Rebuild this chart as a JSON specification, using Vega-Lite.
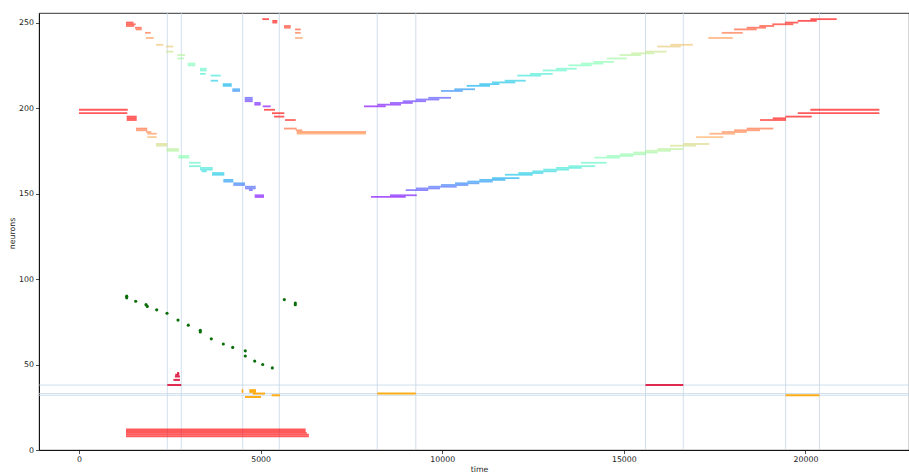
{
  "$schema": "https://vega.github.io/schema/vega-lite/v6.json",
  "width": 870,
  "height": 437,
  "autosize": {"type": "none"},
  "padding": {"left": 39, "top": 13, "right": 0, "bottom": 22},
  "background": "white",
  "config": {
    "view": {"stroke": "black", "strokeWidth": 0.8},
    "axis": {
      "labelFont": "DejaVu Sans",
      "labelFontSize": 7.8,
      "labelColor": "#222",
      "titleFont": "DejaVu Sans",
      "titleFontSize": 7.8,
      "titleFontWeight": "normal",
      "titleColor": "#222",
      "tickColor": "#222",
      "tickSize": 3.5,
      "tickWidth": 0.8,
      "domainColor": "black",
      "domainWidth": 0.8,
      "grid": false,
      "labelPadding": 2
    }
  },
  "datasets": {
    "event_times": [
      {"t": 2432}, {"t": 2817}, {"t": 4508}, {"t": 5515},
      {"t": 8211}, {"t": 9273}, {"t": 15597}, {"t": 16637},
      {"t": 19454}, {"t": 20384}
    ],
    "event_cells": [{"n": 38}, {"n": 33}, {"n": 32}],
    "seq": [
      {"a": "top", "n": 250, "t0": 1295, "t1": 1500},
      {"a": "top", "n": 249, "t0": 1295, "t1": 1560},
      {"a": "top", "n": 248, "t0": 1295, "t1": 1520},
      {"a": "top", "n": 247, "t0": 1543, "t1": 1727},
      {"a": "top", "n": 246, "t0": 1560, "t1": 1727},
      {"a": "top", "n": 244, "t0": 1818, "t1": 1975},
      {"a": "top", "n": 241, "t0": 1840, "t1": 2058},
      {"a": "top", "n": 237, "t0": 2121, "t1": 2322},
      {"a": "top", "n": 236, "t0": 2396, "t1": 2597},
      {"a": "top", "n": 233, "t0": 2396, "t1": 2597},
      {"a": "top", "n": 231, "t0": 2707, "t1": 2919},
      {"a": "top", "n": 229, "t0": 2707, "t1": 2890},
      {"a": "top", "n": 226, "t0": 2994, "t1": 3203},
      {"a": "top", "n": 225, "t0": 2994, "t1": 3203},
      {"a": "top", "n": 223, "t0": 3332, "t1": 3517},
      {"a": "top", "n": 222, "t0": 3332, "t1": 3517},
      {"a": "top", "n": 220, "t0": 3332, "t1": 3490},
      {"a": "top", "n": 219, "t0": 3627, "t1": 3902},
      {"a": "top", "n": 216, "t0": 3627, "t1": 3830},
      {"a": "top", "n": 214, "t0": 3957, "t1": 4205},
      {"a": "top", "n": 213, "t0": 3957, "t1": 4205},
      {"a": "top", "n": 211, "t0": 4221, "t1": 4433},
      {"a": "top", "n": 210, "t0": 4221, "t1": 4433},
      {"a": "top", "n": 206, "t0": 4563, "t1": 4783},
      {"a": "top", "n": 205, "t0": 4563, "t1": 4783},
      {"a": "top", "n": 204, "t0": 4563, "t1": 4783},
      {"a": "top", "n": 203, "t0": 4827, "t1": 5003},
      {"a": "top", "n": 202, "t0": 4827, "t1": 5003},
      {"a": "top", "n": 201, "t0": 5058, "t1": 5279},
      {"a": "top", "n": 252, "t0": 5047, "t1": 5232},
      {"a": "top", "n": 251, "t0": 5323, "t1": 5460},
      {"a": "top", "n": 250, "t0": 5323, "t1": 5460},
      {"a": "top", "n": 248, "t0": 5645, "t1": 5829},
      {"a": "top", "n": 247, "t0": 5645, "t1": 5829},
      {"a": "top", "n": 246, "t0": 5948, "t1": 6105},
      {"a": "top", "n": 244, "t0": 5948, "t1": 6105},
      {"a": "top", "n": 241, "t0": 5948, "t1": 6160},
      {"a": "top", "n": 201, "t0": 7847, "t1": 8445},
      {"a": "top", "n": 202, "t0": 8213, "t1": 8866},
      {"a": "top", "n": 203, "t0": 8563, "t1": 9188},
      {"a": "top", "n": 204, "t0": 8913, "t1": 9554},
      {"a": "top", "n": 205, "t0": 9271, "t1": 9920},
      {"a": "top", "n": 206, "t0": 9617, "t1": 10242},
      {"a": "top", "n": 210, "t0": 9967, "t1": 10564},
      {"a": "top", "n": 211, "t0": 10333, "t1": 10903},
      {"a": "top", "n": 213, "t0": 10675, "t1": 11316},
      {"a": "top", "n": 214, "t0": 11021, "t1": 11572},
      {"a": "top", "n": 215, "t0": 11371, "t1": 12012},
      {"a": "top", "n": 216, "t0": 11721, "t1": 12299},
      {"a": "top", "n": 219, "t0": 12068, "t1": 12720},
      {"a": "top", "n": 220, "t0": 12417, "t1": 13042},
      {"a": "top", "n": 222, "t0": 12767, "t1": 13428},
      {"a": "top", "n": 223, "t0": 13133, "t1": 13703},
      {"a": "top", "n": 225, "t0": 13472, "t1": 14116},
      {"a": "top", "n": 226, "t0": 13821, "t1": 14435},
      {"a": "top", "n": 227, "t0": 14160, "t1": 14730},
      {"a": "top", "n": 229, "t0": 14530, "t1": 15080},
      {"a": "top", "n": 231, "t0": 14880, "t1": 15470},
      {"a": "top", "n": 232, "t0": 15200, "t1": 15840},
      {"a": "top", "n": 233, "t0": 15590, "t1": 16180},
      {"a": "top", "n": 236, "t0": 15920, "t1": 16570},
      {"a": "top", "n": 237, "t0": 16280, "t1": 16900},
      {"a": "top", "n": 241, "t0": 17326, "t1": 17998},
      {"a": "top", "n": 244, "t0": 17695, "t1": 18273},
      {"a": "top", "n": 246, "t0": 18034, "t1": 18658},
      {"a": "top", "n": 247, "t0": 18383, "t1": 18914},
      {"a": "top", "n": 248, "t0": 18730, "t1": 19135},
      {"a": "top", "n": 249, "t0": 19088, "t1": 19666},
      {"a": "top", "n": 250, "t0": 19437, "t1": 19803},
      {"a": "top", "n": 251, "t0": 19787, "t1": 20310},
      {"a": "top", "n": 252, "t0": 20134, "t1": 20861},
      {"a": "bot", "n": 199, "t0": 0, "t1": 1342},
      {"a": "bot", "n": 197, "t0": 0, "t1": 1331},
      {"a": "bot", "n": 195, "t0": 1314, "t1": 1590},
      {"a": "bot", "n": 194, "t0": 1314, "t1": 1590},
      {"a": "bot", "n": 193, "t0": 1314, "t1": 1590},
      {"a": "bot", "n": 188, "t0": 1570, "t1": 1881},
      {"a": "bot", "n": 187, "t0": 1570, "t1": 1881},
      {"a": "bot", "n": 186, "t0": 1846, "t1": 1990},
      {"a": "bot", "n": 185, "t0": 1880, "t1": 2140},
      {"a": "bot", "n": 183, "t0": 1881, "t1": 2140},
      {"a": "bot", "n": 179, "t0": 2121, "t1": 2432},
      {"a": "bot", "n": 178, "t0": 2121, "t1": 2432},
      {"a": "bot", "n": 176, "t0": 2415, "t1": 2754},
      {"a": "bot", "n": 175, "t0": 2415, "t1": 2754},
      {"a": "bot", "n": 172, "t0": 2735, "t1": 3037},
      {"a": "bot", "n": 171, "t0": 2735, "t1": 3037},
      {"a": "bot", "n": 168, "t0": 3029, "t1": 3351},
      {"a": "bot", "n": 166, "t0": 3029, "t1": 3351},
      {"a": "bot", "n": 165, "t0": 3332, "t1": 3682},
      {"a": "bot", "n": 164, "t0": 3332, "t1": 3682},
      {"a": "bot", "n": 163, "t0": 3379, "t1": 3517},
      {"a": "bot", "n": 162, "t0": 3663, "t1": 4001},
      {"a": "bot", "n": 161, "t0": 3663, "t1": 4001},
      {"a": "bot", "n": 158, "t0": 3974, "t1": 4249},
      {"a": "bot", "n": 157, "t0": 3974, "t1": 4249},
      {"a": "bot", "n": 156, "t0": 4249, "t1": 4571},
      {"a": "bot", "n": 155, "t0": 4249, "t1": 4571},
      {"a": "bot", "n": 154, "t0": 4571, "t1": 4866},
      {"a": "bot", "n": 153, "t0": 4571, "t1": 4866},
      {"a": "bot", "n": 152, "t0": 4681, "t1": 4783},
      {"a": "bot", "n": 149, "t0": 4838, "t1": 5094},
      {"a": "bot", "n": 148, "t0": 4838, "t1": 5094},
      {"a": "bot", "n": 199, "t0": 5094, "t1": 5397},
      {"a": "bot", "n": 197, "t0": 5314, "t1": 5653},
      {"a": "bot", "n": 195, "t0": 5369, "t1": 5653},
      {"a": "bot", "n": 193, "t0": 5672, "t1": 5967},
      {"a": "bot", "n": 188, "t0": 5645, "t1": 5994},
      {"a": "bot", "n": 187, "t0": 5967, "t1": 6149},
      {"a": "bot", "n": 186, "t0": 5994, "t1": 7902},
      {"a": "bot", "n": 185, "t0": 5994, "t1": 7902},
      {"a": "bot", "n": 148, "t0": 8040, "t1": 8995},
      {"a": "bot", "n": 149, "t0": 8563, "t1": 9298},
      {"a": "bot", "n": 152, "t0": 8995, "t1": 9617},
      {"a": "bot", "n": 153, "t0": 9279, "t1": 9940},
      {"a": "bot", "n": 154, "t0": 9617, "t1": 10399},
      {"a": "bot", "n": 155, "t0": 9967, "t1": 10718},
      {"a": "bot", "n": 156, "t0": 10352, "t1": 11021},
      {"a": "bot", "n": 157, "t0": 10691, "t1": 11390},
      {"a": "bot", "n": 158, "t0": 11021, "t1": 11737},
      {"a": "bot", "n": 159, "t0": 11371, "t1": 12123},
      {"a": "bot", "n": 161, "t0": 11729, "t1": 12491},
      {"a": "bot", "n": 162, "t0": 12095, "t1": 12783},
      {"a": "bot", "n": 163, "t0": 12480, "t1": 13152},
      {"a": "bot", "n": 164, "t0": 12783, "t1": 13491},
      {"a": "bot", "n": 165, "t0": 13133, "t1": 13841},
      {"a": "bot", "n": 166, "t0": 13472, "t1": 14207},
      {"a": "bot", "n": 168, "t0": 13821, "t1": 14528},
      {"a": "bot", "n": 171, "t0": 14187, "t1": 14894},
      {"a": "bot", "n": 172, "t0": 14528, "t1": 15261},
      {"a": "bot", "n": 173, "t0": 14894, "t1": 15610},
      {"a": "bot", "n": 174, "t0": 15261, "t1": 15933},
      {"a": "bot", "n": 175, "t0": 15583, "t1": 16299},
      {"a": "bot", "n": 176, "t0": 15922, "t1": 16638},
      {"a": "bot", "n": 178, "t0": 16272, "t1": 16988},
      {"a": "bot", "n": 179, "t0": 16638, "t1": 17354},
      {"a": "bot", "n": 183, "t0": 16988, "t1": 17739},
      {"a": "bot", "n": 185, "t0": 17354, "t1": 18062},
      {"a": "bot", "n": 186, "t0": 17695, "t1": 18383},
      {"a": "bot", "n": 187, "t0": 18034, "t1": 18750},
      {"a": "bot", "n": 188, "t0": 18383, "t1": 19115},
      {"a": "bot", "n": 193, "t0": 18750, "t1": 19465},
      {"a": "bot", "n": 194, "t0": 19099, "t1": 19465},
      {"a": "bot", "n": 195, "t0": 19446, "t1": 20173},
      {"a": "bot", "n": 197, "t0": 19787, "t1": 22034},
      {"a": "bot", "n": 199, "t0": 20134, "t1": 22034}
    ],
    "tonic": [
      {"n": 12, "t0": 1295, "t1": 6240},
      {"n": 11, "t0": 1295, "t1": 6240},
      {"n": 10, "t0": 1295, "t1": 6270},
      {"n": 9, "t0": 1295, "t1": 6330},
      {"n": 8, "t0": 1295, "t1": 6330}
    ],
    "events": [
      {"kind": "crimson", "n": 38, "t0": 2432, "t1": 2817},
      {"kind": "crimson", "n": 41, "t0": 2600, "t1": 2780},
      {"kind": "crimson", "n": 43, "t0": 2640, "t1": 2780},
      {"kind": "crimson", "n": 44, "t0": 2650, "t1": 2760},
      {"kind": "crimson", "n": 45, "t0": 2700, "t1": 2760},
      {"kind": "crimson", "n": 38, "t0": 15597, "t1": 16637},
      {"kind": "orange", "n": 35, "t0": 4480, "t1": 4524},
      {"kind": "orange", "n": 34, "t0": 4480, "t1": 4524},
      {"kind": "orange", "n": 35, "t0": 4689, "t1": 4874},
      {"kind": "orange", "n": 34, "t0": 4689, "t1": 4874},
      {"kind": "orange", "n": 33, "t0": 4783, "t1": 5122},
      {"kind": "orange", "n": 31, "t0": 4571, "t1": 5012},
      {"kind": "orange", "n": 32, "t0": 5306, "t1": 5535},
      {"kind": "orange", "n": 33, "t0": 8211, "t1": 9273},
      {"kind": "orange", "n": 32, "t0": 19454, "t1": 20384}
    ],
    "dots": [
      {"n": 90, "t": 1314}, {"n": 89, "t": 1314}, {"n": 87, "t": 1562},
      {"n": 85, "t": 1846}, {"n": 84, "t": 1881}, {"n": 82, "t": 2140},
      {"n": 80, "t": 2424}, {"n": 76, "t": 2727}, {"n": 73, "t": 3010},
      {"n": 70, "t": 3340}, {"n": 69, "t": 3340}, {"n": 65, "t": 3643},
      {"n": 62, "t": 3974}, {"n": 60, "t": 4232}, {"n": 58, "t": 4579},
      {"n": 55, "t": 4579}, {"n": 52, "t": 4838}, {"n": 50, "t": 5058},
      {"n": 48, "t": 5323}, {"n": 88, "t": 5653}, {"n": 86, "t": 5956},
      {"n": 85, "t": 5956}
    ]
  },
  "resolve": {"scale": {"color": "independent"}},
  "layer": [
    {
      "data": {"name": "event_times"},
      "mark": {"type": "rule", "color": "#c2d4e6", "strokeWidth": 1, "opacity": 0.75},
      "encoding": {
        "x": {
          "field": "t",
          "type": "quantitative",
          "title": "time",
          "scale": {"domain": [-1100, 22850], "nice": false, "zero": false},
          "axis": {
            "values": [0, 5000, 10000, 15000, 20000],
            "format": "d",
            "title": "time",
            "titleX": 440,
            "titleY": 21,
            "titleBaseline": "alphabetic",
            "labelFlush": false
          }
        }
      }
    },
    {
      "data": {"name": "event_cells"},
      "mark": {"type": "rule", "color": "#c2d4e6", "strokeWidth": 1, "opacity": 0.75},
      "encoding": {
        "y": {
          "field": "n",
          "type": "quantitative",
          "title": "neurons",
          "scale": {"domain": [0, 255.6], "nice": false, "zero": false},
          "axis": {
            "values": [0, 50, 100, 150, 200, 250],
            "title": "neurons",
            "titleX": -25,
            "titleY": 220,
            "titleAlign": "center",
            "titleBaseline": "alphabetic",
            "labelFlush": false
          }
        }
      }
    },
    {
      "data": {"name": "seq"},
      "transform": [{"filter": "datum.a == 'top'"}],
      "mark": {"type": "rule", "strokeWidth": 1.8, "opacity": 0.65},
      "encoding": {
        "x": {"field": "t0", "type": "quantitative", "title": "time"},
        "x2": {"field": "t1"},
        "y": {"field": "n", "type": "quantitative", "title": "neurons"},
        "color": {
          "field": "n",
          "type": "quantitative",
          "legend": null,
          "scale": {
            "domain": [201, 207.25, 213.5, 219.75, 226, 232.25, 238.5, 244.75, 251],
            "range": ["#8000ff", "#4062fa", "#00b4eb", "#40ecd4", "#80ffb4", "#c0ec8e", "#ffb462", "#ff6232", "#ff0000"],
            "interpolate": "rgb",
            "clamp": true
          }
        }
      }
    },
    {
      "data": {"name": "seq"},
      "transform": [{"filter": "datum.a == 'bot'"}],
      "mark": {"type": "rule", "strokeWidth": 1.8, "opacity": 0.65},
      "encoding": {
        "x": {"field": "t0", "type": "quantitative", "title": "time"},
        "x2": {"field": "t1"},
        "y": {"field": "n", "type": "quantitative", "title": "neurons"},
        "color": {
          "field": "n",
          "type": "quantitative",
          "legend": null,
          "scale": {
            "domain": [148, 153.75, 159.5, 165.25, 171, 176.75, 182.5, 188.25, 194],
            "range": ["#8000ff", "#4062fa", "#00b4eb", "#40ecd4", "#80ffb4", "#c0ec8e", "#ffb462", "#ff6232", "#ff0000"],
            "interpolate": "rgb",
            "clamp": true
          }
        }
      }
    },
    {
      "data": {"name": "tonic"},
      "mark": {"type": "rule", "strokeWidth": 1.8, "opacity": 0.65, "color": "#ff0000"},
      "encoding": {
        "x": {"field": "t0", "type": "quantitative", "title": "time"},
        "x2": {"field": "t1"},
        "y": {"field": "n", "type": "quantitative", "title": "neurons"}
      }
    },
    {
      "data": {"name": "events"},
      "mark": {"type": "rule", "strokeWidth": 2, "opacity": 0.9},
      "encoding": {
        "x": {"field": "t0", "type": "quantitative", "title": "time"},
        "x2": {"field": "t1"},
        "y": {"field": "n", "type": "quantitative", "title": "neurons"},
        "color": {
          "field": "kind",
          "type": "nominal",
          "legend": null,
          "scale": {"domain": ["crimson", "orange"], "range": ["#dc143c", "#ffa500"]}
        }
      }
    },
    {
      "data": {"name": "dots"},
      "mark": {"type": "point", "filled": true, "shape": "circle", "size": 10, "opacity": 1, "color": "#0b6e0b"},
      "encoding": {
        "x": {"field": "t", "type": "quantitative", "title": "time"},
        "y": {"field": "n", "type": "quantitative", "title": "neurons"}
      }
    }
  ]
}
